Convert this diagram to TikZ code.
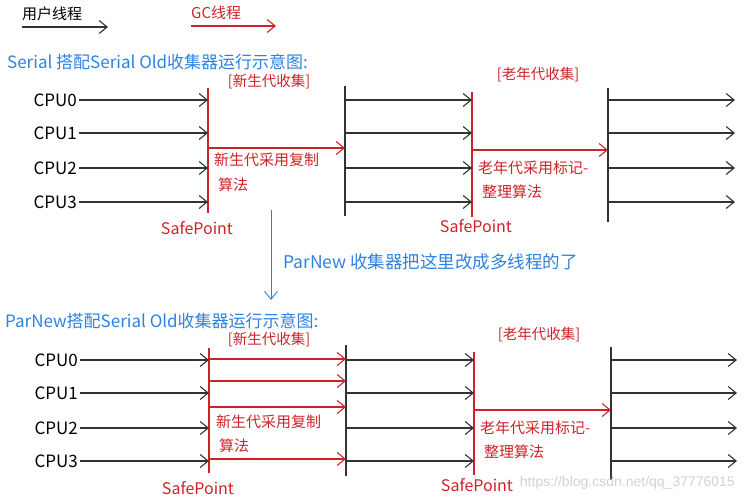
\documentclass[tikz,border=0pt]{standalone}
\usepackage{fontspec}
\setmainfont{Noto Sans CJK SC}
\newfontfamily\wmfont{Liberation Sans}
\usepackage{tikz}
\usetikzlibrary{arrows.meta,positioning}
\definecolor{gcred}{RGB}{205,35,40}
\definecolor{noteblue}{RGB}{45,130,225}

\begin{document}
\begin{tikzpicture}[
      x=1pt, y=-1pt,
      usr/.style={draw=black!80, line width=1.1pt, -{Straight Barb[length=8pt,width=13pt]}},
      gc/.style={usr, draw=gcred},
      note/.style={usr, draw=noteblue, line width=0.9pt},
      ubar/.style={draw=black!80, line width=1.3pt},
      gbar/.style={draw=gcred, line width=1.3pt},
      cpu/.style={font=\fontsize{17}{17}\selectfont, anchor=east, inner sep=2pt},
      redtxt/.style={font=\fontsize{15}{15}\selectfont, text=gcred, anchor=west, inner sep=0pt},
      sfp/.style={font=\fontsize{16}{16}\selectfont, text=gcred, inner sep=0pt},
      hdr/.style={font=\fontsize{14.5}{14.5}\selectfont, text=gcred, inner sep=0pt},
      bluetxt/.style={font=\fontsize{17}{17}\selectfont, text=noteblue, anchor=west, inner sep=0pt}
    ]
      \useasboundingbox (0,0) rectangle (745,500);

      % legend
      \node[anchor=west, font=\fontsize{15}{15}\selectfont, inner sep=0pt] (lgUsr) at (22,14) {用户线程};
      \coordinate (lgUsrE) at (108,27);
      \draw[usr] (lgUsr.west |- lgUsrE) -- (lgUsrE);
      \node[anchor=west, font=\fontsize{15}{15}\selectfont, text=gcred, inner sep=0pt] (lgGc) at (191,13) {GC线程};
      \coordinate (lgGcE) at (276,26);
      \draw[gc] (lgGc.west |- lgGcE) -- (lgGcE);

      % Serial + Serial Old
      \node[bluetxt] (titleA) at (7,62) {Serial 搭配Serial Old收集器运行示意图:};
      \node[hdr] (youngA) at (269,82) {[新生代收集]};
      \node[hdr] (oldA) at (538,75) {[老年代收集]};

      % bars
      \coordinate (spA1t) at (208,88);  \coordinate (spA1b) at (208,213);
      \coordinate (runA1t) at (345,86); \coordinate (runA1b) at (345,216);
      \coordinate (spA2t) at (472,92);  \coordinate (spA2b) at (472,217);
      \coordinate (runA2t) at (608,88); \coordinate (runA2b) at (608,222);
      \draw[gbar] (spA1t) -- (spA1b);
      \draw[ubar] (runA1t) -- (runA1b);
      \draw[gbar] (spA2t) -- (spA2b);
      \draw[ubar] (runA2t) -- (runA2b);

      % user threads
      \foreach \i/\y in {0/100,1/133,2/168,3/202} {
        \node[cpu] (cpuA\i) at (79,\y) {CPU\i};
        \coordinate (endA\i) at (735,\y);
        \draw[usr] (cpuA\i.east) -- (cpuA\i.east -| spA1t);
        \draw[usr] (cpuA\i.east -| runA1t) -- (cpuA\i.east -| spA2t);
        \draw[usr] (cpuA\i.east -| runA2t) -- (endA\i);
      }

      % gc threads
      \coordinate (gcA1) at (208,148);
      \draw[gc] (gcA1) -- (gcA1 -| runA1t);
      \node[redtxt] (cpyA) at (214,160) {新生代采用复制};
      \node[redtxt] (cpyAb) at (218,185) {算法};
      \node[sfp] (sfA1) at (197,228) {SafePoint};
      \coordinate (gcA2) at (472,150);
      \draw[gc] (gcA2) -- (gcA2 -| runA2t);
      \node[redtxt] (mrkA) at (478,168) {老年代采用标记-};
      \node[redtxt] (mrkAb) at (482,192) {整理算法};
      \node[sfp] (sfA2) at (476,226) {SafePoint};

      % change note
      \coordinate (noteS) at (271,210);
      \coordinate (noteE) at (271,300);
      \draw[note] (noteS) -- (noteE);
      \node[bluetxt, font=\fontsize{17.5}{17.5}\selectfont] (noteTxt) at (283,262) {ParNew 收集器把这里改成多线程的了};

      % ParNew + Serial Old
      \node[bluetxt] (titleB) at (5,321) {ParNew搭配Serial Old收集器运行示意图:};
      \node[hdr] (youngB) at (269,340) {[新生代收集]};
      \node[hdr] (oldB) at (539,335) {[老年代收集]};

      % bars
      \coordinate (spB1t) at (209,348);  \coordinate (spB1b) at (209,473);
      \coordinate (runB1t) at (346,345); \coordinate (runB1b) at (346,476);
      \coordinate (spB2t) at (474,352);  \coordinate (spB2b) at (474,475);
      \coordinate (runB2t) at (611,347); \coordinate (runB2b) at (611,480);
      \draw[gbar] (spB1t) -- (spB1b);
      \draw[ubar] (runB1t) -- (runB1b);
      \draw[gbar] (spB2t) -- (spB2b);
      \draw[ubar] (runB2t) -- (runB2b);

      % user threads
      \foreach \i/\y in {0/360,1/393,2/428,3/461} {
        \node[cpu] (cpuB\i) at (80,\y) {CPU\i};
        \coordinate (endB\i) at (737,\y);
        \draw[usr] (cpuB\i.east) -- (cpuB\i.east -| spB1t);
        \draw[usr] (cpuB\i.east -| runB1t) -- (cpuB\i.east -| spB2t);
        \draw[usr] (cpuB\i.east -| runB2t) -- (endB\i);
      }

      % gc threads (young gen now parallel)
      \foreach \y in {359,381,407,459} {
        \coordinate (gcB\y) at (209,\y);
        \draw[gc] (gcB\y) -- (gcB\y -| runB1t);
      }
      \node[redtxt] (cpyB) at (216,422) {新生代采用复制};
      \node[redtxt] (cpyBb) at (219,446) {算法};
      \node[sfp] (sfB1) at (198,488) {SafePoint};
      \coordinate (gcB2) at (474,410);
      \draw[gc] (gcB2) -- (gcB2 -| runB2t);
      \node[redtxt] (mrkB) at (480,428) {老年代采用标记-};
      \node[redtxt] (mrkBb) at (484,452) {整理算法};
      \node[sfp] (sfB2) at (477,485) {SafePoint};

      % watermark
      \node[anchor=east, font=\wmfont\fontsize{14}{14}\selectfont, text=black!18, inner sep=0pt] (wm) at (735,483) {https://blog.csdn.net/qq\_37776015};
    \end{tikzpicture}
\end{document}
